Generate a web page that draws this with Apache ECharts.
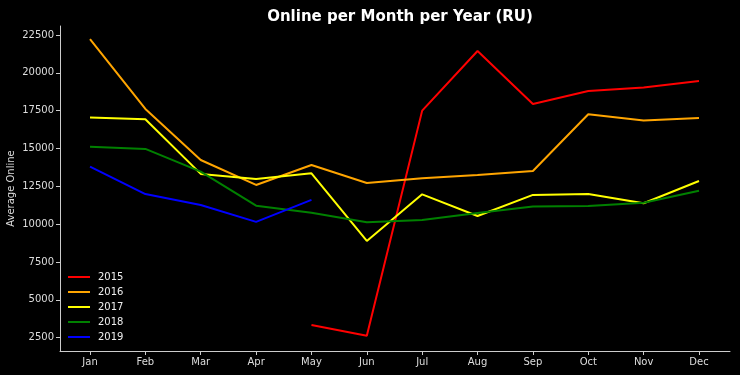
<!DOCTYPE html>
<html><head><meta charset="utf-8">
<script src="https://cdn.jsdelivr.net/npm/echarts@6/dist/echarts.min.js"></script>
<style>html,body{margin:0;padding:0;background:#000;}#c{width:740px;height:375px;}</style>
</head><body><div id="c"></div>
<script>
const months = ['Jan','Feb','Mar','Apr','May','Jun','Jul','Aug','Sep','Oct','Nov','Dec'];
const yTicks = [2500,5000,7500,10000,12500,15000,17500,20000,22500];
const years = ['2015','2016','2017','2018','2019'];
const colors = ['#ff0000','#ffa500','#ffff00','#008000','#0000ff'];
const v2015 = [null,null,null,null,3340,2630,17500,21440,17940,18800,19020,19460];
const v2016 = [22230,17610,14240,12590,13910,12720,13030,13250,13510,17260,16840,17020];
const v2017 = [17040,16930,13320,12990,13360,8890,11970,10540,11930,11990,11380,12850];
const v2018 = [15120,14970,13470,11220,10760,10130,10280,10740,11160,11200,11420,12210];
const v2019 = [13800,11990,11270,10150,11600,null,null,null,null,null,null,null];
const allVals = [v2015,v2016,v2017,v2018,v2019];

const font = 'DejaVu Sans';
const chart = echarts.init(document.getElementById('c'));
chart.setOption({
  backgroundColor:'#000',
  animation:false,
  title:{text:'Online per Month per Year (RU)',left:395,textAlign:'center',top:5,
    textStyle:{color:'#fff',fontFamily:font,fontWeight:'bold',fontSize:15}},
  grid:{left:60,right:10,top:26,bottom:24,containLabel:false,outerBoundsMode:'none'},
  legend:{orient:'vertical',left:68,top:271,padding:0,icon:'rect',itemWidth:22,itemHeight:2,itemGap:3,
    data:years,textStyle:{color:'#eee',fontFamily:font,fontSize:10,lineHeight:12,padding:[0,0,0,3]}},
  xAxis:{type:'value',min:-0.542,max:11.56,
    axisLine:{onZero:false,lineStyle:{color:'#ccc',width:1}},
    axisTick:{customValues:months.map((m,i)=>i),length:4,lineStyle:{color:'#ccc'}},
    axisLabel:{customValues:months.map((m,i)=>i),formatter:v=>months[Math.round(v)],color:'#ddd',fontFamily:font,fontSize:10,margin:6},
    splitLine:{show:false}},
  yAxis:{type:'value',min:1620,max:23090,name:'Average Online',nameLocation:'middle',nameGap:44,nameMoveOverlap:false,
    nameTextStyle:{color:'#ddd',fontFamily:font,fontSize:10},
    axisLine:{show:true,onZero:false,lineStyle:{color:'#ccc',width:1}},
    axisTick:{show:true,customValues:yTicks,length:4,lineStyle:{color:'#ccc'}},
    axisLabel:{customValues:yTicks,formatter:v=>String(v),color:'#ddd',fontFamily:font,fontSize:10,margin:6},
    splitLine:{show:false}},
  series: years.map((y,k)=>({
    name:y,type:'line',showSymbol:false,symbol:'none',color:colors[k],
    lineStyle:{width:2,color:colors[k]},
    data: allVals[k].map((v,i)=>v==null?null:[i,v]).filter(d=>d)
  }))
});
</script></body></html>
